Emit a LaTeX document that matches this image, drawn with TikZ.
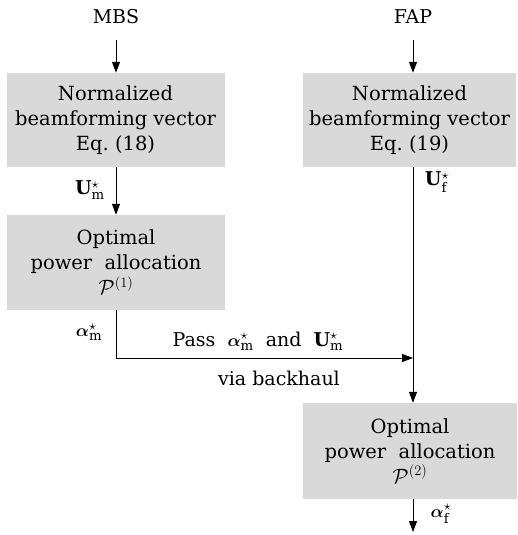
\documentclass[tikz,border=0pt]{standalone}
\usepackage{amsmath,amssymb}
\usepackage{fontspec}
\setmainfont{DejaVu Serif}
\usetikzlibrary{arrows.meta}
\begin{document}
\begin{tikzpicture}[x=1pt,y=-1pt,
  box/.style={fill=gray!30,inner sep=0pt,align=center,font=\fontsize{19.5}{25}\selectfont},
  lbl/.style={font=\fontsize{19}{23}\selectfont,inner sep=1pt},
  arr/.style={-{Triangle[length=11pt,width=8pt]},line width=1pt},
  ln/.style={line width=1pt}]
\useasboundingbox (0,0) rectangle (517,535);
\node[lbl] (mbs) at (116,17) {MBS};
\node[lbl] (fap) at (413,17) {FAP};
\node[box,minimum width=218pt,minimum height=94pt] (b1) at (115.5,120) {Normalized\\beamforming vector\\Eq.~(18)};
\node[box,minimum width=213pt,minimum height=94pt] (b2) at (409.5,120) {Normalized\\beamforming vector\\Eq.~(19)};
\node[box,minimum width=218pt,minimum height=95pt] (b3) at (116,262.5) {Optimal\\power~~allocation\\$\mathcal{P}^{(1)}$};
\node[box,minimum width=214pt,minimum height=96pt] (b4) at (410,451) {Optimal\\power~~allocation\\$\mathcal{P}^{(2)}$};
\coordinate (mtop) at (116,40);
\coordinate (ftop) at (413,40);
\coordinate (corner) at (116,358);
\coordinate (join) at (413,358);
\coordinate (fend) at (413,532);
\draw[arr] (mtop) -- (b1.north -| mtop);
\draw[arr] (ftop) -- (b2.north -| ftop);
\draw[arr] (b1.south -| mtop) -- (b3.north -| mtop);
\draw[arr] (b2.south -| ftop) -- (b4.north -| ftop);
\draw[ln] (b3.south -| mtop) -- (corner);
\draw[arr] (corner) -- (join);
\draw[arr] (b4.south -| ftop) -- (fend);
\node[lbl] (um) at (90,190) {$\mathbf{U}^\star_{\mathrm{m}}$};
\node[lbl] (uf) at (437,182) {$\mathbf{U}^\star_{\mathrm{f}}$};
\node[lbl] (am) at (89,332) {$\boldsymbol{\alpha}^\star_{\mathrm{m}}$};
\node[lbl] (af) at (441,514) {$\boldsymbol{\alpha}^\star_{\mathrm{f}}$};
\node[lbl] (pass) at (258,341) {Pass~ $\boldsymbol{\alpha}^\star_{\mathrm{m}}$~ and~ $\mathbf{U}^\star_{\mathrm{m}}$};
\node[lbl] (via) at (279,378) {via backhaul};
\end{tikzpicture}
\end{document}
